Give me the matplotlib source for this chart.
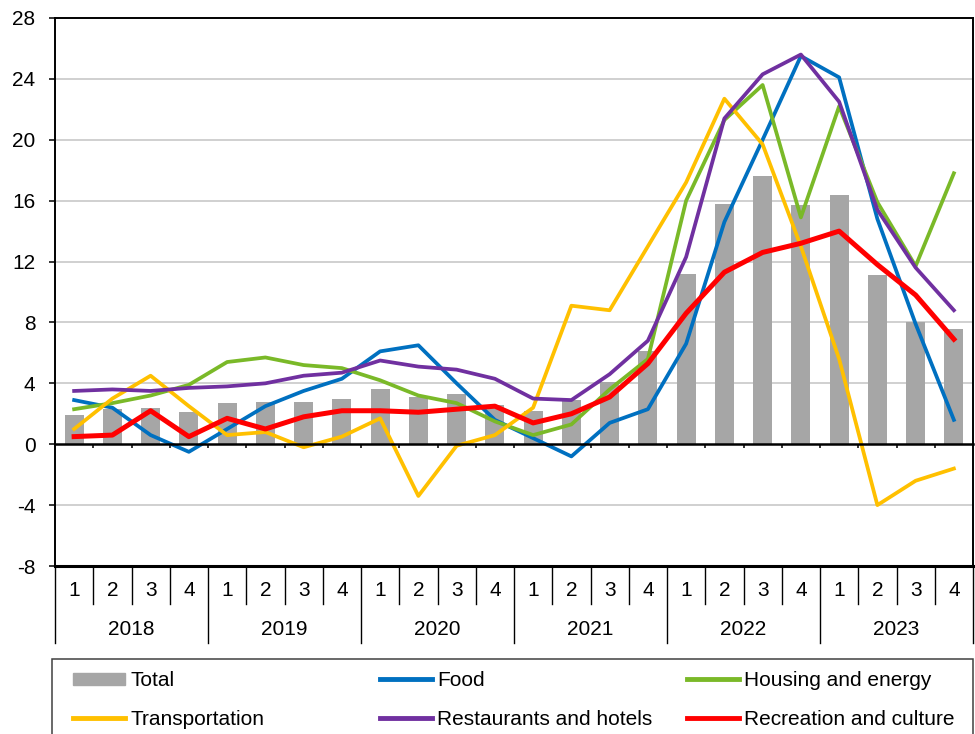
import numpy as np
import matplotlib
matplotlib.use('Agg')
import matplotlib.pyplot as plt
from matplotlib.lines import Line2D
from matplotlib.patches import Patch, Rectangle

plt.rcParams['font.family'] = ['Liberation Sans', 'DejaVu Sans']
plt.rcParams['axes.unicode_minus'] = False

YEARS    = ['2018', '2019', '2020', '2021', '2022', '2023']
QUARTERS = ['1', '2', '3', '4']

total       = [1.9, 2.3, 2.4, 2.1, 2.7, 2.8, 2.8, 3.0, 3.6, 3.1, 3.3, 2.6,
               2.2, 2.9, 4.1, 6.1, 11.2, 15.8, 17.6, 15.7, 16.4, 11.1, 8.0, 7.6]
food        = [2.9, 2.4, 0.6, -0.5, 1.0, 2.5, 3.5, 4.3, 6.1, 6.5, 4.0, 1.6,
               0.4, -0.8, 1.4, 2.3, 6.6, 14.6, 20.0, 25.5, 24.1, 14.8, 7.9, 1.6]
housing     = [2.3, 2.7, 3.2, 3.9, 5.4, 5.7, 5.2, 5.0, 4.2, 3.2, 2.7, 1.5,
               0.6, 1.3, 3.6, 5.6, 16.0, 21.3, 23.6, 14.9, 22.2, 15.9, 11.7, 17.8]
transport   = [1.0, 3.0, 4.5, 2.5, 0.6, 0.8, -0.2, 0.5, 1.7, -3.4, -0.1, 0.6,
               2.4, 9.1, 8.8, 13.0, 17.2, 22.7, 19.7, 13.0, 5.6, -4.0, -2.4, -1.6]
restaurants = [3.5, 3.6, 3.5, 3.7, 3.8, 4.0, 4.5, 4.7, 5.5, 5.1, 4.9, 4.3,
               3.0, 2.9, 4.6, 6.8, 12.3, 21.4, 24.3, 25.6, 22.5, 15.4, 11.6, 8.8]
recreation  = [0.5, 0.6, 2.2, 0.5, 1.7, 1.0, 1.8, 2.2, 2.2, 2.1, 2.3, 2.5,
               1.4, 2.0, 3.1, 5.3, 8.6, 11.3, 12.6, 13.2, 14.0, 11.8, 9.8, 6.9]

GREY, BLUE, GREEN = '#A6A6A6', '#0070C0', '#7AB928'
YELLOW, PURPLE, RED = '#FFC000', '#7030A0', '#FF0000'
FS = 15

W, H = 975, 734
fig = plt.figure(figsize=(W / 100, H / 100), dpi=100)
ax = fig.add_axes([55 / W, 1 - 566 / H, (973 - 55) / W, (566 - 18) / H])

x = np.arange(len(total))
ax.bar(x, total, width=0.5, color=GREY, zorder=2)
ax.plot(x, food, color=BLUE, lw=2.7, zorder=3)
ax.plot(x, housing, color=GREEN, lw=2.7, zorder=3)
ax.plot(x, transport, color=YELLOW, lw=2.7, zorder=3)
ax.plot(x, restaurants, color=PURPLE, lw=2.7, zorder=3)
ax.plot(x, recreation, color=RED, lw=3.6, zorder=4)

ax.set_xlim(-0.5, len(total) - 0.5)
ax.set_ylim(-8, 28)
ax.set_yticks(np.arange(-8, 29, 4))
ax.tick_params(axis='y', direction='out', length=4, width=1.1, pad=10, labelsize=FS)
for v in range(-4, 25, 4):
    if v != 0:
        ax.axhline(v, color='#C8C8C8', lw=1.2, zorder=1)

# horizontal axis sits on zero, box line at the bottom
for s in ['left', 'right', 'top']:
    ax.spines[s].set_linewidth(1.4)
ax.spines['bottom'].set_position(('data', 0))
ax.spines['bottom'].set_linewidth(1.8)
ax.spines['bottom'].set_zorder(5)
ax.axhline(-8, color='black', lw=2.2, clip_on=False, zorder=5)
ax.set_xticks(np.arange(0.5, len(total) - 1, 1))
ax.set_xticklabels([])
ax.tick_params(axis='x', direction='out', length=3, width=1.1)

# category table under the plot
tr = ax.get_xaxis_transform()
for i in range(len(total) + 1):
    y_end = -0.1405 if i % 4 == 0 else -0.0693
    ax.plot([i - 0.5, i - 0.5], [0, y_end], color='black', lw=1.0,
            transform=tr, clip_on=False)
for i in range(len(total)):
    ax.text(i, -0.045, QUARTERS[i % 4], transform=tr, ha='center', va='center',
            fontsize=FS)
for j, yr in enumerate(YEARS):
    ax.text(j * 4 + 1.5, -0.1165, yr, transform=tr, ha='center', va='center',
            fontsize=FS)

# legend frame + three columns
fig.patches.append(Rectangle((52 / W, -0.05), (973 - 52) / W, 1 - 659 / H + 0.05,
                             transform=fig.transFigure, fill=False,
                             edgecolor='#404040', lw=1.1))
cols = [
    (73,  [Patch(color=GREY), Line2D([], [], color=YELLOW, lw=3.5)],
     ['Total', 'Transportation']),
    (380, [Line2D([], [], color=BLUE, lw=3.5), Line2D([], [], color=PURPLE, lw=3.5)],
     ['Food', 'Restaurants and hotels']),
    (687, [Line2D([], [], color=GREEN, lw=3.5), Line2D([], [], color=RED, lw=3.5)],
     ['Housing and energy', 'Recreation and culture']),
]
for xp, hs, ls in cols:
    fig.legend(hs, ls, loc='upper left', bbox_to_anchor=(xp / W, 1 - 671 / H),
               frameon=False, fontsize=FS, borderpad=0, borderaxespad=0,
               handlelength=2.5, handleheight=0.5, handletextpad=0.25,
               labelspacing=0.95)

plt.savefig('out.png', dpi=100)
